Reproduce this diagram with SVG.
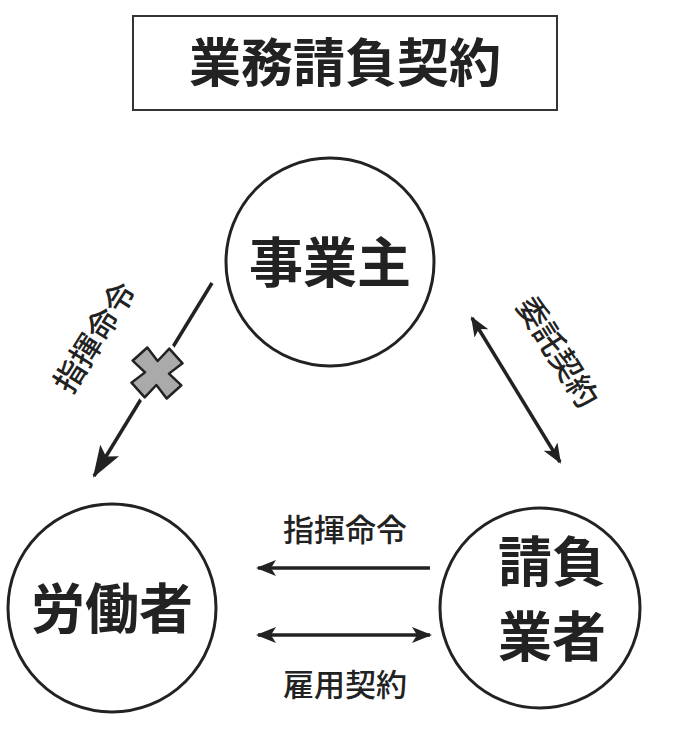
<svg xmlns="http://www.w3.org/2000/svg" width="691" height="738" viewBox="0 0 691 738">
<style>
text{font-family:"Noto Sans CJK JP","Noto Sans CJK SC",sans-serif;fill:#222;text-anchor:middle}
.n{fill:#fff;stroke:#222;stroke-width:3}
.c{stroke:#222;stroke-width:3.5;fill:none}
.b{font-size:54px;font-weight:bold}
.l{font-size:31px;font-weight:500}
</style>
<defs>
<marker id="a" viewBox="0 0 20 16" refX="18" refY="8" markerWidth="20" markerHeight="16" markerUnits="userSpaceOnUse" orient="auto-start-reverse">
<path d="M0,0 L20,8 L0,16 L5,8 Z" fill="#222"/>
</marker>
<marker id="A" viewBox="0 0 32 22" refX="30" refY="11" markerWidth="32" markerHeight="22" markerUnits="userSpaceOnUse" orient="auto-start-reverse">
<path d="M0,0 L32,11 L0,22 L7,11 Z" fill="#222"/>
</marker>
</defs>
<g id="title"><rect x="133" y="16" width="424" height="94" fill="#fff" stroke="#333" stroke-width="2"/><text x="345" y="82" style="font-size:52px;font-weight:bold">業務請負契約</text></g>
<g id="jigyonushi"><circle class="n" cx="330" cy="262" r="104"/><text class="b" x="330" y="283">事業主</text></g>
<g id="rodosha"><circle class="n" cx="112" cy="608" r="104"/><text class="b" x="112" y="629">労働者</text></g>
<g id="ukeoi"><circle class="n" cx="540" cy="608" r="100"/><text class="b" x="552" y="582">請負</text><text class="b" x="552" y="657">業者</text></g>
<g id="connectors">
<line class="c" x1="212" y1="283" x2="94" y2="476" marker-end="url(#A)"/>
<path d="M-11,-25 L0,-12 L11,-25 L25,-11 L12,0 L25,11 L11,25 L0,12 L-11,25 L-25,11 L-12,0 L-25,-11 Z" transform="translate(157,373) rotate(3)" fill="#aaa" stroke="#fff" stroke-width="9" stroke-linejoin="round"/>
<path d="M-11,-25 L0,-12 L11,-25 L25,-11 L12,0 L25,11 L11,25 L0,12 L-11,25 L-25,11 L-12,0 L-25,-11 Z" transform="translate(157,373) rotate(3)" fill="#aaa" stroke="#222" stroke-width="2.5" stroke-linejoin="round"/>
<text class="l" transform="translate(104,343) rotate(-58)">指揮命令</text>
<line class="c" x1="472" y1="318" x2="560" y2="462" marker-start="url(#a)" marker-end="url(#a)"/>
<text class="l" transform="translate(548,358) rotate(58)">委託契約</text>
<line class="c" x1="430" y1="568" x2="258" y2="568" marker-end="url(#a)"/>
<text class="l" x="345" y="541">指揮命令</text>
<line class="c" x1="258" y1="635" x2="430" y2="635" marker-start="url(#a)" marker-end="url(#a)"/>
<text class="l" x="345" y="696">雇用契約</text>
</g>
</svg>
